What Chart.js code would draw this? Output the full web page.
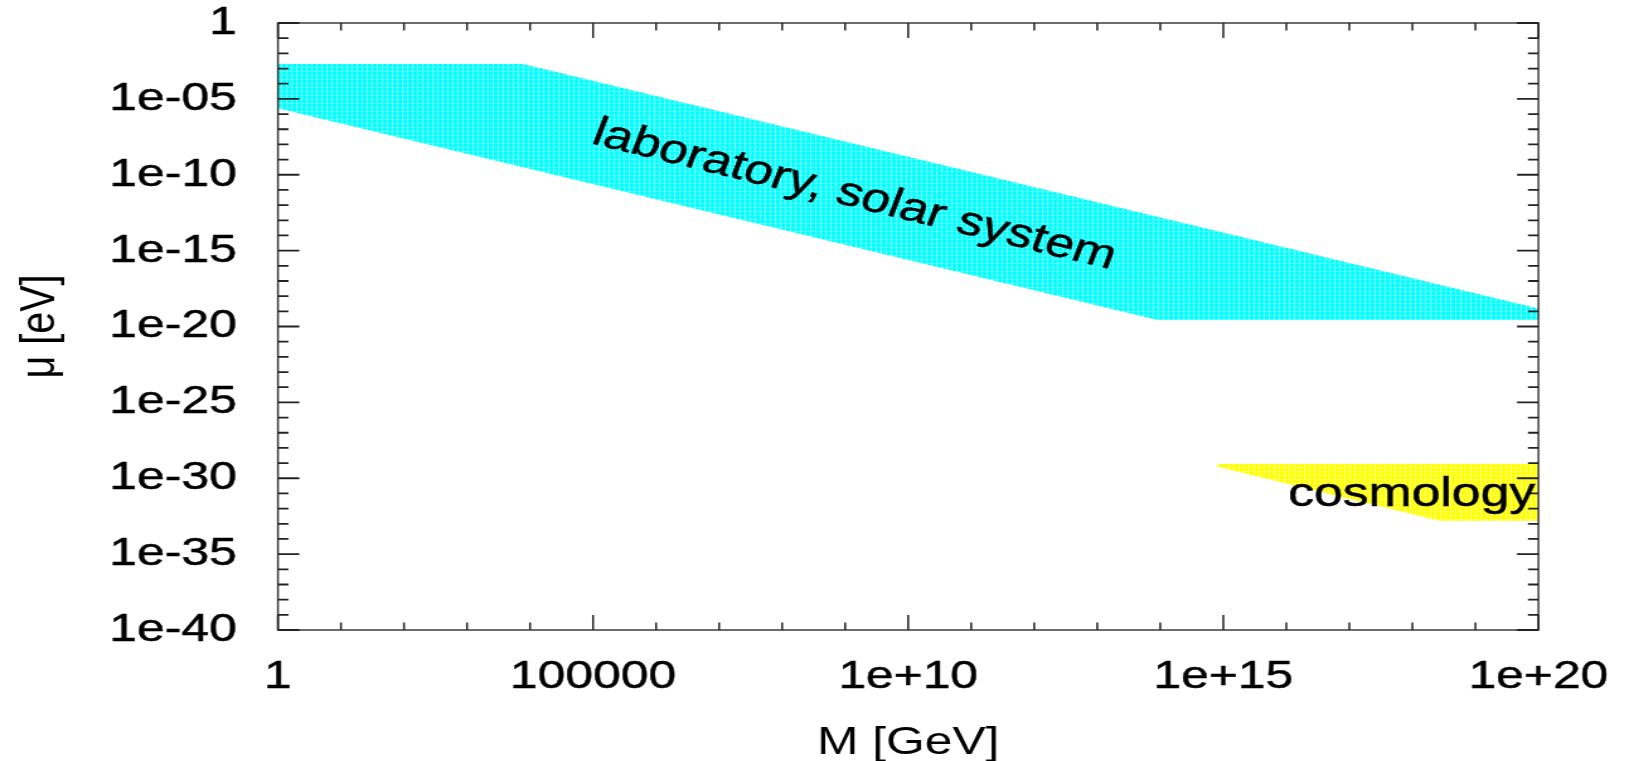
<!DOCTYPE html>
<html>
<head>
<meta charset="utf-8">
<script src="https://cdn.jsdelivr.net/npm/chart.js@4.4.1/dist/chart.umd.min.js"></script>
<style>
  html, body { margin: 0; padding: 0; background: #fff; overflow: hidden; }
  /* the figure is laid out narrow and widened horizontally */
  #wrap { width: 1293px; height: 761px; transform: scaleX(1.25986); transform-origin: 0 0; }
  canvas { display: block; }
</style>
</head>
<body>
<div id="wrap"><canvas id="c" width="1293" height="761"></canvas></div>
<script>
// Axis ticks (labelled every five decades)
const xTickValues = [1, 1e5, 1e10, 1e15, 1e20];
const xTickLabels = ['1', '100000', '1e+10', '1e+15', '1e+20'];
const yTickValues = [1, 1e-5, 1e-10, 1e-15, 1e-20, 1e-25, 1e-30, 1e-35, 1e-40];
const yTickLabels = ['1', '1e-05', '1e-10', '1e-15', '1e-20', '1e-25', '1e-30', '1e-35', '1e-40'];

// Laboratory / solar-system excluded region: upper and lower edges (M in GeV, mu in eV)
const labUpperM  = [1, 7.8e3, 1e20];
const labUpperMu = [2.0e-3, 2.0e-3, 1.55e-19];
const labLowerM  = [1, 9.1e13, 1e20];
const labLowerMu = [2.4e-6, 2.7e-20, 2.7e-20];

// Cosmology region
const cosmoUpperM  = [8.1e14, 1e20];
const cosmoUpperMu = [8.7e-30, 8.7e-30];
const cosmoLowerM  = [8.1e14, 2.7e18, 1e20];
const cosmoLowerMu = [5.8e-30, 1.6e-33, 1.6e-33];

// Region names and where they sit (data coordinates)
const regionNames  = ['laboratory, solar system', 'cosmology'];
const regionNameM  = [1.2e9, 1.07e16];
const regionNameMu = [8.5e-13, 1.6e-32];

const FONT = '"Liberation Sans", Arial, Helvetica, sans-serif';
Chart.defaults.font.family = FONT;
Chart.defaults.color = '#000';

// closed outline: upper edge left→right, lower edge right→left
function outline(upM, upMu, loM, loMu) {
  const pts = upM.map((m, i) => ({ x: m, y: upMu[i] }));
  for (let i = loM.length - 1; i >= 0; i--) pts.push({ x: loM[i], y: loMu[i] });
  return pts;
}

// fine cell texture of the shaded regions
function cells(base, vline, hline) {
  const c = document.createElement('canvas');
  c.width = 4; c.height = 4;
  const g = c.getContext('2d');
  g.fillStyle = base;  g.fillRect(0, 0, 4, 4);
  g.fillStyle = vline; g.fillRect(3, 0, 1, 4);
  g.fillStyle = hline; g.fillRect(0, 3, 3, 1);
  return g.createPattern(c, 'repeat');
}

// box with inward ticks on all four sides, one per decade
const frame = {
  id: 'frame',
  afterDatasetsDraw(chart) {
    const { ctx, chartArea: a, scales: { x, y } } = chart;
    ctx.save();
    ctx.strokeStyle = '#3c3c3c';
    ctx.lineWidth = 1.5;
    ctx.strokeRect(a.left, a.top, a.right - a.left, a.bottom - a.top);
    ctx.strokeStyle = '#222';
    ctx.beginPath();
    for (let k = Math.round(Math.log10(x.min)); k <= Math.round(Math.log10(x.max)); k++) {
      const px = x.getPixelForValue(Math.pow(10, k));
      const len = xTickValues.some(t => Math.abs(Math.log10(t) - k) < 1e-6) ? 15 : 7.5;
      ctx.moveTo(px, a.bottom); ctx.lineTo(px, a.bottom - len);
      ctx.moveTo(px, a.top);    ctx.lineTo(px, a.top + len);
    }
    ctx.stroke();
    ctx.lineWidth = 1.8;
    ctx.beginPath();
    for (let k = Math.round(Math.log10(y.min)); k <= Math.round(Math.log10(y.max)); k++) {
      const py = y.getPixelForValue(Math.pow(10, k));
      const len = yTickValues.some(t => Math.abs(Math.log10(t) - k) < 1e-6) ? 17 : 8.3;
      ctx.moveTo(a.left, py);  ctx.lineTo(a.left + len, py);
      ctx.moveTo(a.right, py); ctx.lineTo(a.right - len, py);
    }
    ctx.stroke();

    // region names
    ctx.fillStyle = '#000';
    ctx.strokeStyle = '#000';
    ctx.lineWidth = 0.5;
    ctx.font = '41px ' + FONT;
    ctx.textBaseline = 'alphabetic';
    regionNames.forEach((name, i) => {
      const px = x.getPixelForValue(regionNameM[i]);
      const py = y.getPixelForValue(regionNameMu[i]);
      ctx.save();
      ctx.translate(px, py);
      if (i === 0) {
        ctx.rotate(17 * Math.PI / 180);
        ctx.textAlign = 'center';
      } else {
        ctx.textAlign = 'left';
      }
      ctx.fillText(name, 0, 0);
      ctx.strokeText(name, 0, 0);
      ctx.restore();
    });
    ctx.restore();
  }
};

const tickFont = { size: 39.5, lineHeight: 1.1 };
const ctx = document.getElementById('c').getContext('2d');
new Chart(ctx, {
  type: 'scatter',
  data: {
    datasets: [
      {
        label: 'laboratory, solar system',
        data: outline(labUpperM, labUpperMu, labLowerM, labLowerMu),
        showLine: true, fill: 'shape', borderWidth: 0, pointRadius: 0,
        backgroundColor: cells('#00ffff', '#6cffff', '#48ffff')
      },
      {
        label: 'cosmology',
        data: outline(cosmoUpperM, cosmoUpperMu, cosmoLowerM, cosmoLowerMu),
        showLine: true, fill: 'shape', borderWidth: 0, pointRadius: 0,
        backgroundColor: cells('#ffff00', '#ffff6c', '#ffff48')
      }
    ]
  },
  options: {
    responsive: false,
    devicePixelRatio: 1,
    animation: false,
    layout: { padding: { left: 0, top: 23, right: 71.9, bottom: 0 } },
    plugins: { legend: { display: false }, tooltip: { enabled: false } },
    scales: {
      x: {
        type: 'logarithmic', position: 'bottom', min: 1, max: 1e20,
        // tick marks are drawn by the frame plugin; the hidden tick length only spaces the labels
        grid: { display: false, drawTicks: true, tickLength: 25.5 },
        border: { display: false },
        afterBuildTicks: s => { s.ticks = xTickValues.map(v => ({ value: v })); },
        afterFit: s => { s.height = 131; },
        ticks: {
          autoSkip: false, maxRotation: 0, minRotation: 0, padding: 0, color: '#000',
          font: tickFont, textStrokeColor: '#000', textStrokeWidth: 0.5,
          callback: (v, i) => xTickLabels[i]
        },
        title: {
          display: true, text: 'M [GeV]', color: '#000',
          font: { size: 39.5, lineHeight: 1.2 }, padding: { top: 0, bottom: -6 }
        }
      },
      y: {
        type: 'logarithmic', position: 'left', min: 1e-40, max: 1,
        grid: { display: false, drawTicks: true, tickLength: 32.7 },
        border: { display: false },
        afterBuildTicks: s => { s.ticks = yTickValues.map(v => ({ value: v })); },
        afterFit: s => { s.width = 220.6; },
        ticks: {
          autoSkip: false, padding: 0, color: '#000',
          font: tickFont, textStrokeColor: '#000', textStrokeWidth: 0.5,
          callback: (v, i) => yTickLabels[i]
        },
        title: {
          display: true, text: 'μ [eV]', color: '#000',
          font: { size: 39.5, lineHeight: 1.2 }, padding: { top: 8, bottom: 0 }
        }
      }
    }
  },
  plugins: [frame]
});
</script>
</body>
</html>
